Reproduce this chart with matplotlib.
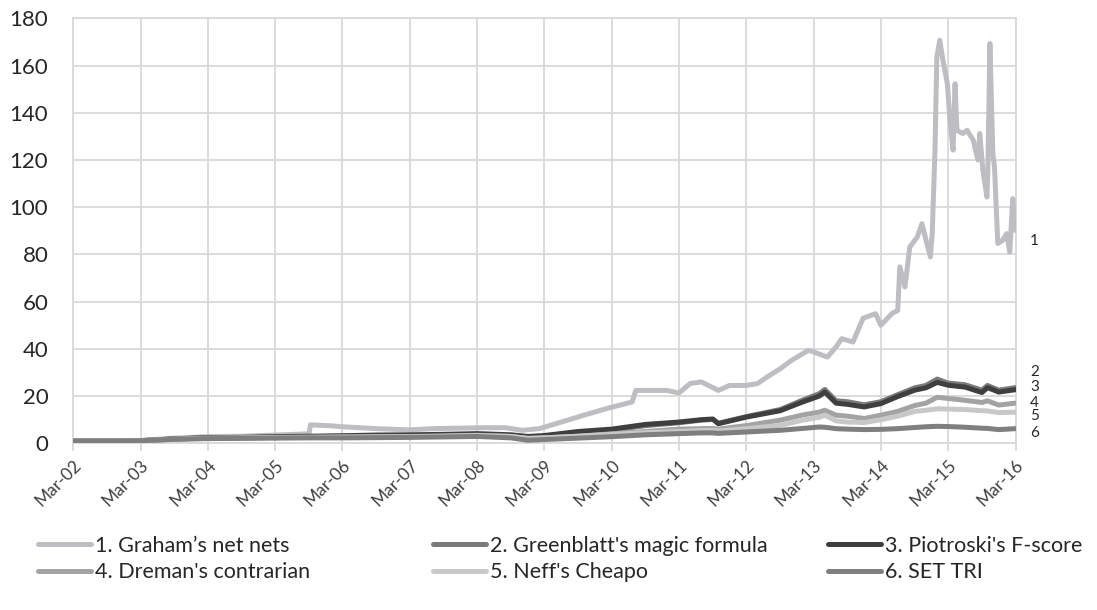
import matplotlib
matplotlib.use("Agg")
import matplotlib.pyplot as plt
import pandas as pd
from matplotlib.transforms import blended_transform_factory

plt.rcParams['font.family'] = ['Lato', 'DejaVu Sans']

# ---------------- data ----------------
graham_dates = [
    "2002-03-01", "2002-09-01", "2003-03-01", "2003-09-01", "2004-03-01", "2004-09-01",
    "2005-03-01", "2005-08-25", "2005-09-01", "2005-09-08", "2006-01-01", "2006-03-01",
    "2006-09-01", "2007-03-01", "2007-07-01", "2008-04-01", "2008-08-01", "2008-11-01",
    "2009-02-01", "2009-07-01", "2009-10-01", "2010-02-01", "2010-06-20", "2010-07-10",
    "2010-12-27", "2011-03-01", "2011-05-01", "2011-07-01", "2011-10-01", "2011-12-01",
    "2012-03-01", "2012-05-01", "2012-06-20", "2012-09-01", "2012-11-01", "2013-02-01",
    "2013-03-01", "2013-05-15", "2013-07-01", "2013-08-01", "2013-10-01", "2013-11-25",
    "2014-02-01", "2014-03-01", "2014-05-01", "2014-06-01", "2014-06-12", "2014-07-10",
    "2014-08-05", "2014-09-15", "2014-10-10", "2014-11-25", "2014-12-05", "2014-12-20",
    "2014-12-30", "2015-01-15", "2015-02-01", "2015-02-25", "2015-03-10", "2015-03-28",
    "2015-04-08", "2015-04-18", "2015-05-20", "2015-06-12", "2015-07-15", "2015-08-10",
    "2015-08-20", "2015-09-06", "2015-09-28", "2015-10-03", "2015-10-14", "2015-10-30",
    "2015-11-08", "2015-11-26", "2015-12-22", "2016-01-13", "2016-01-30", "2016-02-15",
    "2016-02-28",
]
graham_values = [
    1.0, 1.0, 1.2, 2.2, 2.8, 3.0,
    3.5, 4.0, 4.2, 7.8, 7.4, 7.0,
    6.2, 5.7, 6.2, 6.6, 6.6, 5.5,
    6.2, 9.7, 11.9, 14.7, 17.5, 22.4,
    22.4, 21.3, 25.3, 26.0, 22.4, 24.5,
    24.5, 25.3, 28.0, 31.6, 35.1, 39.4,
    38.7, 36.5, 40.8, 44.3, 42.9, 53.0,
    54.9, 50.0, 55.0, 56.3, 74.7, 66.2,
    83.1, 87.4, 93.0, 78.9, 88.9, 124.2,
    163.6, 170.7, 162.3, 152.3, 138.2, 124.2,
    152.3, 132.6, 131.2, 132.6, 128.5, 120.0,
    131.2, 115.6, 104.3, 115.6, 169.3, 122.7,
    117.0, 84.6, 86.0, 88.8, 81.0, 103.6,
    90.2,
]

other_dates = [
    "2002-03-01", "2002-09-01", "2003-03-01", "2003-09-01", "2004-03-01", "2004-09-01",
    "2005-03-01", "2005-09-01", "2006-03-01", "2006-09-01", "2007-03-01", "2007-09-01",
    "2008-03-01", "2008-09-01", "2008-12-01", "2009-03-01", "2009-09-01", "2010-03-01",
    "2010-09-01", "2011-03-01", "2011-07-01", "2011-09-01", "2011-10-01", "2012-03-01",
    "2012-09-01", "2013-01-01", "2013-04-01", "2013-05-01", "2013-07-01", "2013-09-01",
    "2013-12-01", "2014-03-01", "2014-06-01", "2014-09-01", "2014-11-01", "2015-01-01",
    "2015-03-01", "2015-06-01", "2015-09-01", "2015-10-01", "2015-12-01", "2016-03-01",
]
greenblatt_values = [
    1.0, 1.0, 1.1, 1.8, 2.3, 2.4, 2.6, 2.8, 3.0, 3.1,
    3.2, 3.4, 3.6, 3.0, 2.0, 2.4, 4.0, 5.5, 7.5, 8.7,
    9.8, 10.1, 8.5, 11.3, 14.3, 18.3, 21.0, 22.8, 18.0, 17.6,
    16.3, 17.6, 20.6, 23.5, 24.5, 27.2, 25.5, 24.8, 22.5, 24.5,
    22.5, 23.6,
]
piotroski_values = [
    1.0, 1.0, 1.1, 1.9, 2.4, 2.5, 2.8, 3.0, 3.2, 3.5,
    3.6, 3.8, 4.1, 3.6, 2.9, 3.3, 5.0, 6.0, 8.0, 9.0,
    10.0, 10.3, 8.3, 11.1, 13.8, 17.5, 20.0, 21.7, 17.0, 16.5,
    15.4, 16.8, 19.8, 22.5, 23.5, 25.8, 24.6, 23.8, 21.5, 23.6,
    21.7, 22.7,
]
dreman_values = [
    1.0, 1.0, 1.1, 1.8, 2.2, 2.3, 2.5, 2.6, 2.7, 2.8,
    2.9, 3.1, 3.4, 2.9, 2.0, 2.3, 3.0, 4.0, 5.0, 6.0,
    6.2, 6.3, 6.0, 7.5, 9.8, 12.0, 13.2, 14.0, 11.9, 11.5,
    10.5, 11.9, 13.5, 16.0, 17.0, 19.5, 19.0, 18.2, 17.3, 18.0,
    16.2, 17.0,
]
neff_values = [
    1.0, 1.0, 1.1, 1.7, 2.1, 2.2, 2.4, 2.5, 2.6, 2.7,
    2.8, 3.0, 3.3, 2.9, 2.1, 2.3, 3.0, 3.8, 4.5, 5.0,
    5.4, 5.5, 5.2, 6.2, 7.6, 9.8, 11.0, 11.9, 9.5, 9.0,
    8.8, 10.0, 11.5, 13.5, 14.0, 14.6, 14.5, 14.3, 13.8, 13.7,
    13.0, 13.2,
]
settri_values = [
    1.0, 1.0, 1.1, 1.7, 2.0, 2.1, 2.2, 2.3, 2.3, 2.4,
    2.5, 2.7, 2.9, 2.3, 1.3, 1.6, 2.2, 2.8, 3.6, 4.1,
    4.4, 4.4, 4.2, 4.8, 5.5, 6.3, 6.9, 6.8, 6.2, 6.0,
    5.8, 5.9, 6.2, 6.7, 7.0, 7.2, 7.1, 6.8, 6.4, 6.3,
    5.8, 6.2,
]

series_names = ["1. Graham\u2019s net nets", "2. Greenblatt's magic formula",
                "3. Piotroski's F-score", "4. Dreman's contrarian",
                "5. Neff's Cheapo", "6. SET TRI"]
end_labels = ["1", "2", "3", "4", "5", "6"]
end_label_y = [85.7, 30.2, 23.8, 17.1, 11.6, 4.2]

tick_dates = ["%d-03-01" % y for y in range(2002, 2017)]
tick_labels = ["Mar-%02d" % (y % 100) for y in range(2002, 2017)]
yticks = list(range(0, 181, 20))

colors = ["#bebec2", "#7a7a7a", "#3f3f3f", "#a3a3a3", "#c8c8c8", "#7f7f7f"]

# ---------------- figure ----------------
fig = plt.figure(figsize=(10.97, 6.10), dpi=100)
ax = fig.add_axes([73.3 / 1097, 1 - 443.3 / 610, (1015.5 - 73.3) / 1097, (443.3 - 18.3) / 610])

gd = pd.to_datetime(graham_dates)
od = pd.to_datetime(other_dates)
all_series = [(gd, graham_values), (od, greenblatt_values), (od, piotroski_values),
              (od, dreman_values), (od, neff_values), (od, settri_values)]
lines = []
for (d, v), c, name in zip(all_series, colors, series_names):
    ln, = ax.plot(d, v, color=c, lw=3.6, label=name, solid_capstyle='round',
                  solid_joinstyle='round', zorder=3)
    lines.append(ln)

td = pd.to_datetime(tick_dates)
ax.set_xlim(td[0], td[-1])
ax.set_ylim(0, 180)
ax.set_xticks(td)
ax.set_xticklabels(tick_labels, rotation=45, ha='right', rotation_mode='anchor',
                   fontsize=12.5, color='#404040')
ax.set_yticks(yticks)
ax.set_yticklabels([str(v) for v in yticks], fontsize=16, color='#262626')
ax.grid(True, color='#d9d9d9', lw=1.3, zorder=0)
ax.set_axisbelow(True)
ax.tick_params(axis='x', length=6, width=1.3, color='#d9d9d9', pad=4)
ax.tick_params(axis='y', length=0, pad=18)
for s in ax.spines.values():
    s.set_color('#d9d9d9')
    s.set_linewidth(1.3)

trans = blended_transform_factory(ax.transAxes, ax.transData)
for lab, yv in zip(end_labels, end_label_y):
    ax.text(1.0154, yv, lab, transform=trans, fontsize=11, color='#262626',
            ha='left', va='center')

# legends: three columns of two entries
col_x = [38 / 1097, 433 / 1097, 828 / 1097]
for i in range(3):
    hs = [lines[i], lines[i + 3]]
    leg = fig.legend(hs, [h.get_label() for h in hs], loc='upper left',
                     bbox_to_anchor=(col_x[i], 1 - 536 / 610), frameon=False,
                     fontsize=15.5, handlelength=2.45, handletextpad=0.22,
                     labelspacing=0.3, borderaxespad=0, borderpad=0)
    for t in leg.get_texts():
        t.set_color('#262626')

fig.savefig("out.png", dpi=100)
